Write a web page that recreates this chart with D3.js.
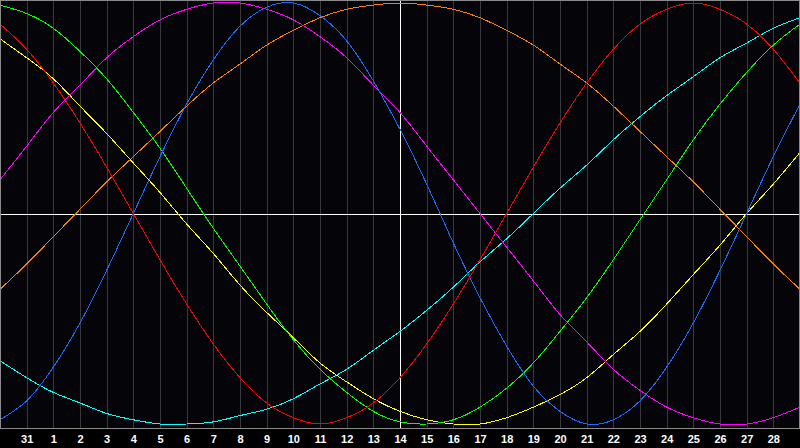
<!DOCTYPE html>
<html>
<head>
<meta charset="utf-8">
<script src="https://cdn.jsdelivr.net/npm/d3@7"></script>
<style>
  body { margin: 0; background: #000; }
  text { font-family: "Liberation Sans", Arial, sans-serif; }
</style>
</head>
<body>
<svg id="chart" width="800" height="448"></svg>
<script>
// day labels for the grid lines (index 1..29 on the x scale)
var tickDates = [31, 1, 2, 3, 4, 5, 6, 7, 8, 9, 10, 11, 12, 13, 14, 15, 16, 17, 18, 19, 20, 21, 22, 23, 24, 25, 26, 27, 28];

// values in percent, one per day from index 0 (the 30th) to index 30 (the 29th)
var physical     = [-98, -89, -73, -52, -27, 0, 27, 52, 73, 89, 98, 100, 94, 82, 63, 40, 14, -14, -40, -63, -82, -94, -100, -98, -89, -73, -52, -27, 0, 27, 52];
var emotional    = [90, 78, 62, 43, 22, 0, -22, -43, -62, -78, -90, -97, -100, -97, -90, -78, -62, -43, -22, 0, 22, 43, 62, 78, 90, 97, 100, 97, 90, 78, 62];
var intellectual = [99, 95, 88, 77, 64, 48, 31, 12, -7, -25, -43, -60, -74, -85, -94, -99, -100, -98, -92, -83, -71, -56, -40, -22, -3, 16, 35, 52, 67, 80, 90];
var intuitive    = [16, 32, 48, 61, 74, 84, 92, 97, 100, 100, 97, 92, 84, 74, 61, 48, 32, 16, 0, -16, -32, -48, -61, -74, -84, -92, -97, -100, -100, -97, -92];
var aesthetic    = [83, 74, 64, 51, 38, 24, 10, -5, -19, -34, -47, -59, -71, -80, -88, -94, -98, -100, -100, -97, -92, -86, -78, -67, -56, -43, -29, -15, 0, 14, 29];
var awareness    = [-36, -24, -11, 2, 15, 27, 39, 51, 62, 71, 80, 87, 93, 97, 99, 100, 99, 97, 93, 87, 80, 71, 62, 51, 39, 27, 15, 2, -11, -24, -36];
var spiritual    = [-70, -78, -85, -90, -95, -98, -100, -100, -99, -96, -93, -88, -81, -74, -65, -56, -46, -35, -23, -12, 0, 12, 23, 35, 46, 56, 65, 74, 81, 88, 93];

var seriesOrder = [spiritual, awareness, aesthetic, intuitive, intellectual, physical, emotional];
var seriesColors = ['#00ffff', '#ff8000', '#ffff00', '#ff00ff', '#00ff00', '#1a6cff', '#ff0000'];

var svg = d3.select('#chart');
var plotBottom = 428;

var x = d3.scaleLinear().domain([0, 30]).range([0, 800]);
var y = d3.scaleLinear().domain([-100, 100]).range([424, 3]);

svg.append('rect')
  .attr('width', 800).attr('height', 448)
  .attr('fill', '#000000');

svg.append('rect')
  .attr('width', 800).attr('height', plotBottom)
  .attr('fill', '#050509');

// day grid
svg.append('g')
  .selectAll('line')
  .data(tickDates)
  .enter().append('line')
    .attr('x1', (d, i) => Math.round(x(i + 1)) + 0.5)
    .attr('x2', (d, i) => Math.round(x(i + 1)) + 0.5)
    .attr('y1', 0)
    .attr('y2', plotBottom)
    .attr('stroke', '#3a3a3e')
    .attr('stroke-width', 1);

// today + zero lines
svg.append('line')
  .attr('x1', Math.round(x(15)) + 0.5).attr('x2', Math.round(x(15)) + 0.5)
  .attr('y1', 0).attr('y2', plotBottom)
  .attr('stroke', '#ffffff');
svg.append('line')
  .attr('x1', 0).attr('x2', 800)
  .attr('y1', Math.round(y(0)) + 0.5).attr('y2', Math.round(y(0)) + 0.5)
  .attr('stroke', '#ffffff');

var line = d3.line()
  .x((v, i) => x(i))
  .y(v => y(v))
  .curve(d3.curveNatural);

// the original draws hard 1px pixel lines, so no antialiasing
svg.append('g')
  .selectAll('path')
  .data(seriesOrder)
  .enter().append('path')
    .attr('d', line)
    .attr('fill', 'none')
    .attr('stroke', (d, i) => seriesColors[i])
    .attr('stroke-width', 1)
    .attr('shape-rendering', 'crispEdges');

// frame
svg.append('rect')
  .attr('x', 0.5).attr('y', 0.5)
  .attr('width', 799).attr('height', plotBottom)
  .attr('fill', 'none')
  .attr('stroke', '#8a8a8a');

var axis = d3.axisBottom(x)
  .tickValues(d3.range(1, 30))
  .tickFormat(i => tickDates[i - 1])
  .tickSize(0)
  .tickPadding(7);

var axisG = svg.append('g')
  .attr('transform', 'translate(0,' + plotBottom + ')')
  .call(axis);
axisG.select('.domain').remove();
axisG.selectAll('text')
  .attr('fill', '#ffffff')
  .style('font-size', '11px')
  .style('font-weight', 'bold')
  .style('font-family', '"Liberation Sans", Arial, sans-serif');
</script>
</body>
</html>
